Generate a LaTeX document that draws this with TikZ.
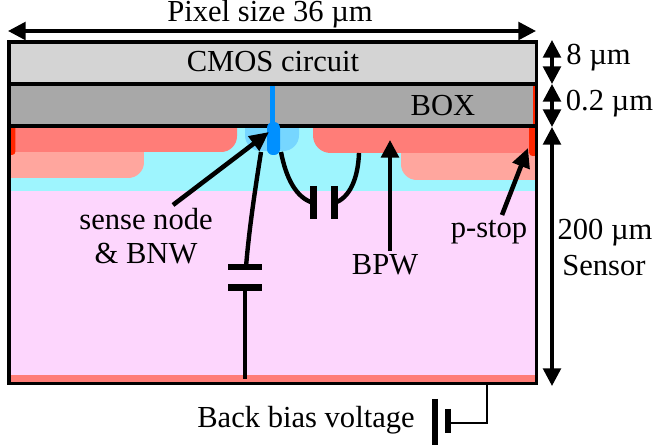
\documentclass[tikz,border=0pt]{standalone}
\usepackage{fontspec}
\setmainfont{Liberation Serif}
\usetikzlibrary{arrows.meta}
\definecolor{cmosgray}{RGB}{212,212,212}
\definecolor{boxgray}{RGB}{168,168,168}
\definecolor{sensorpink}{RGB}{253,214,253}
\definecolor{epicyan}{RGB}{158,245,254}
\definecolor{bpwred}{RGB}{255,125,120}
\definecolor{deepsalmon}{RGB}{255,166,158}
\definecolor{pstopred}{RGB}{255,38,0}
\definecolor{bnwblue}{RGB}{118,214,255}
\definecolor{sensblue}{RGB}{0,144,255}
\tikzset{
    label/.style={font=\fontsize{17.4}{19}\selectfont, inner sep=0pt},
    pointer/.style={line width=2.6pt, -{Triangle[length=11pt,width=10pt]}},
    uparrow/.style={line width=2.2pt, -{Triangle[length=10pt,width=10pt]}},
    dimline/.style={line width=2pt, {Triangle[length=10pt,width=10pt]}-{Triangle[length=10pt,width=10pt]}},
    plate/.style={line width=3.6pt},
    battplate/.style={line width=2.9pt},
    wire/.style={line width=2.5pt},
}
\begin{document}
\begin{tikzpicture}[x=0.02cm,y=-0.02cm]
    \useasboundingbox (0,0) rectangle (654,446);

    % layers
    \begin{scope}
    \clip (8,41) rectangle (537,384);
    \fill [sensorpink] (8,191) rectangle (537,376);
    \fill [epicyan] (8,126) rectangle (537,191);
    \fill [bpwred] (8,375) rectangle (537,384);
    \fill [deepsalmon, rounded corners=9pt] (-30,120) -- (144,120) -- (144,178) -- (-30,178) -- cycle;
    \fill [deepsalmon, rounded corners=9pt] (401,120) -- (401,180) -- (570,180) -- (570,120) -- cycle;
    \fill [bpwred, rounded corners=9pt] (-30,90) -- (237,90) -- (237,152) -- (-30,152) -- cycle;
    \fill [bpwred, rounded corners=10pt] (313,90) -- (313,153) -- (570,153) -- (570,90) -- cycle;
    \fill [bnwblue, rounded corners=9pt] (245,100) rectangle (299,151);
    \fill [pstopred, rounded corners=2pt] (0,120) rectangle (15.5,155);
    \fill [pstopred, rounded corners=2pt] (529,120) rectangle (545,156);
    \fill [pstopred] (9,85) rectangle (12,126);
    \fill [pstopred] (532,85) rectangle (536,126);
    \fill [cmosgray] (8,41) rectangle (537,84);
    \fill [boxgray] (11,84) rectangle (533,126);
    \fill [sensblue] (270.5,84) rectangle (274.5,125);
    \draw [line width=1.9pt] (8,126) -- (537,126);
    \fill [sensblue, rounded corners=3.4pt] (267,122) rectangle (280,155);
    \draw [line width=1.9pt] (8,84) -- (537,84);
    \end{scope}
    \draw [line width=2pt] (9,42) rectangle (536.5,383.5);

    \coordinate (topleft) at (8,31);
    \coordinate (topright) at (536,31);
    \coordinate (dimA) at (552,40);
    \coordinate (dimB) at (552,84);
    \coordinate (dimC) at (552,127);
    \coordinate (dimD) at (552,386);

    \node [label] (pixelsize) at (270,14) {Pixel size 36 µm};
    \node [label] (cmos) at (273,62) {CMOS circuit};
    \node [label] (box) at (443,106) {BOX};
    \node [label] (eight) at (598.5,58) {8 µm};
    \node [label] (thin) at (609.5,104) {0.2 µm};
    \node [label] (bulk) at (605,233) {200 µm};
    \node [label] (sensor) at (604,266) {Sensor};
    \node [label, align=center] (sense) at (146,236) {sense node\\\& BNW};
    \node [label] (pstop) at (489,232) {p-stop};
    \node [label] (bpw) at (385,265) {BPW};
    \node [label] (backbias) at (306,420) {Back bias voltage};

    \draw [dimline] (topleft) -- (topright);
    \draw [dimline] (dimA) -- (dimB);
    \draw [dimline] (dimB) -- (dimC);
    \draw [dimline] (dimC) -- (dimD);

    \coordinate (sensetip) at (269,132);
    \coordinate (pstoptip) at (528,148);
    \coordinate (bpwtip) at (390,140);
    \draw [pointer] (173,205) -- (sensetip);
    \draw [pointer] (502,215) -- (pstoptip);
    \draw [uparrow] (bpw.north -| bpwtip) ++(0,-3) -- (bpwtip);

    % capacitors
    \coordinate (capT) at (246,267);
    \coordinate (capB) at (245,287);
    \draw [plate] (228,267) -- (262,267);
    \draw [plate] (228,287.5) -- (262,287.5);
    \draw [wire] (261,152) .. controls (255,190) and (249,230) .. (capT);
    \draw [wire] (capB) -- (245,379);

    \coordinate (sideL) at (313.5,203);
    \coordinate (sideR) at (334.5,203);
    \draw [plate] (313.5,186) -- (313.5,219);
    \draw [plate] (334.5,186) -- (334.5,219);
    \draw [wire] (281,152) .. controls (286,178) and (296,198) .. (sideL);
    \draw [wire] (359,153) .. controls (358,180) and (349,198) .. (sideR);

    \coordinate (battA) at (448,423);
    \draw [battplate] (435,399) -- (435,445);
    \draw [battplate] (448,409) -- (448,433);
    \draw [line width=1.5pt] (battA) -- (487,423) -- (487,383);

\end{tikzpicture}
\end{document}
